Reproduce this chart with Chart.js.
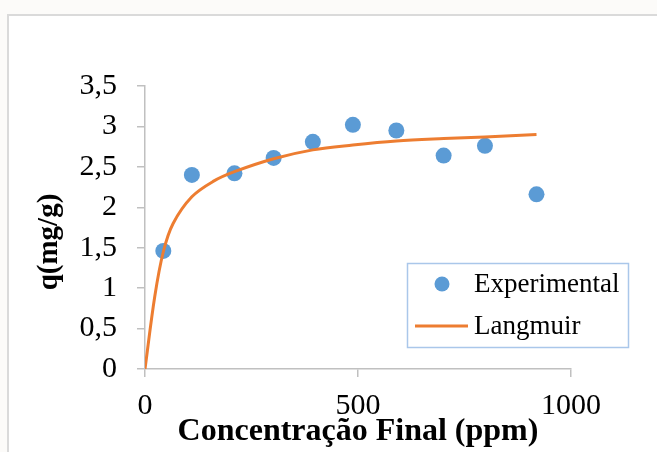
<!DOCTYPE html>
<html>
<head>
<meta charset="utf-8">
<script src="https://cdn.jsdelivr.net/npm/chart.js@4.4.1/dist/chart.umd.min.js"></script>
<style>
body { margin: 0; background: #fcfbf9; overflow: hidden; width: 657px; height: 452px; position: relative; }
#frame { position: absolute; left: 7px; top: 14px; width: 700px; height: 500px; border: 2px solid #dadada; background: #fff; }
#c { position: absolute; left: 0; top: 0; }
</style>
</head>
<body>
<div id="frame"></div>
<canvas id="c" width="657" height="452"></canvas>
<script>
// data
const concExp = [43, 110, 210, 302, 394, 488, 590, 701, 798, 919];
const qExp = [1.46, 2.40, 2.42, 2.61, 2.81, 3.02, 2.95, 2.64, 2.76, 2.16];
const concFit = [0, 23, 43, 66, 110, 160, 210, 302, 394, 488, 590, 701, 798, 919];
const qFit = [0, 0.90, 1.45, 1.80, 2.13, 2.32, 2.44, 2.60, 2.71, 2.77, 2.82, 2.85, 2.87, 2.90];
const xTicks = [0, 500, 1000];
const yTicks = [0, 0.5, 1, 1.5, 2, 2.5, 3, 3.5];

const serif = "'Liberation Serif', 'Times New Roman', serif";
const axisGray = '#c0c0c0';

const legendBox = {
    id: 'legendBox',
    afterDraw(chart) {
        const ctx = chart.ctx;
        const sets = chart.data.datasets;
        ctx.save();
        ctx.fillStyle = '#fff';
        ctx.fillRect(407, 263, 222, 85);
        ctx.strokeStyle = '#aac7ea';
        ctx.lineWidth = 1.5;
        ctx.strokeRect(407.5, 263.5, 221, 84);

        ctx.font = '27px ' + serif;
        ctx.textBaseline = 'middle';

        // Experimental
        ctx.beginPath();
        ctx.arc(442, 284, 7.5, 0, Math.PI * 2);
        ctx.fillStyle = sets[1].backgroundColor;
        ctx.fill();
        ctx.fillStyle = '#000';
        ctx.fillText(sets[1].label, 474, 285);

        // Langmuir
        ctx.beginPath();
        ctx.moveTo(415, 326);
        ctx.lineTo(468, 326);
        ctx.strokeStyle = sets[0].borderColor;
        ctx.lineWidth = 3;
        ctx.stroke();
        ctx.fillText(sets[0].label, 474, 327);
        ctx.restore();
    }
};

new Chart(document.getElementById('c'), {
    type: 'scatter',
    data: {
        datasets: [{
            label: 'Langmuir',
            data: concFit.map((x, i) => ({ x: x, y: qFit[i] })),
            showLine: true,
            borderColor: '#ed7d31',
            backgroundColor: '#ed7d31',
            borderWidth: 3,
            pointRadius: 0,
            tension: 0.35,
            order: 0
        }, {
            label: 'Experimental',
            data: concExp.map((x, i) => ({ x: x, y: qExp[i] })),
            backgroundColor: '#5b9bd5',
            borderColor: '#5b9bd5',
            borderWidth: 0,
            pointRadius: 8,
            order: 1
        }]
    },
    options: {
        responsive: false,
        animation: false,
        devicePixelRatio: 1,
        events: [],
        layout: { padding: { left: 0, top: 86, right: 86, bottom: 0 } },
        plugins: { legend: { display: false }, tooltip: { enabled: false } },
        scales: {
            x: {
                type: 'linear',
                min: 0,
                max: 1000,
                afterBuildTicks: s => { s.ticks = xTicks.map(v => ({ value: v })); },
                afterFit: s => { s.height = 83; },
                ticks: {
                    font: { family: serif, size: 30 },
                    color: '#000',
                    padding: 11,
                    maxRotation: 0,
                    callback: v => String(v)
                },
                grid: { drawOnChartArea: false, tickLength: 8, color: axisGray, lineWidth: 1.5 },
                border: { color: axisGray, width: 1.5 },
                title: {
                    display: true,
                    text: 'Concentração Final (ppm)',
                    font: { family: serif, size: 32, weight: 'bold' },
                    color: '#000',
                    padding: { top: 0, bottom: 1 }
                }
            },
            y: {
                min: 0,
                max: 3.5,
                afterBuildTicks: s => { s.ticks = yTicks.map(v => ({ value: v })); },
                afterFit: s => { s.width = 145; },
                ticks: {
                    font: { family: serif, size: 30 },
                    color: '#000',
                    padding: 20,
                    callback: v => String(v).replace('.', ',')
                },
                grid: { drawOnChartArea: false, tickLength: 8, color: axisGray, lineWidth: 1.5 },
                border: { color: axisGray, width: 1.5 },
                title: {
                    display: true,
                    text: 'q(mg/g)' + '\u00a0'.repeat(4),
                    font: { family: serif, size: 29, weight: 'bold' },
                    color: '#000',
                    padding: { top: 32, bottom: 0 }
                }
            }
        }
    },
    plugins: [legendBox]
});
</script>
</body>
</html>
